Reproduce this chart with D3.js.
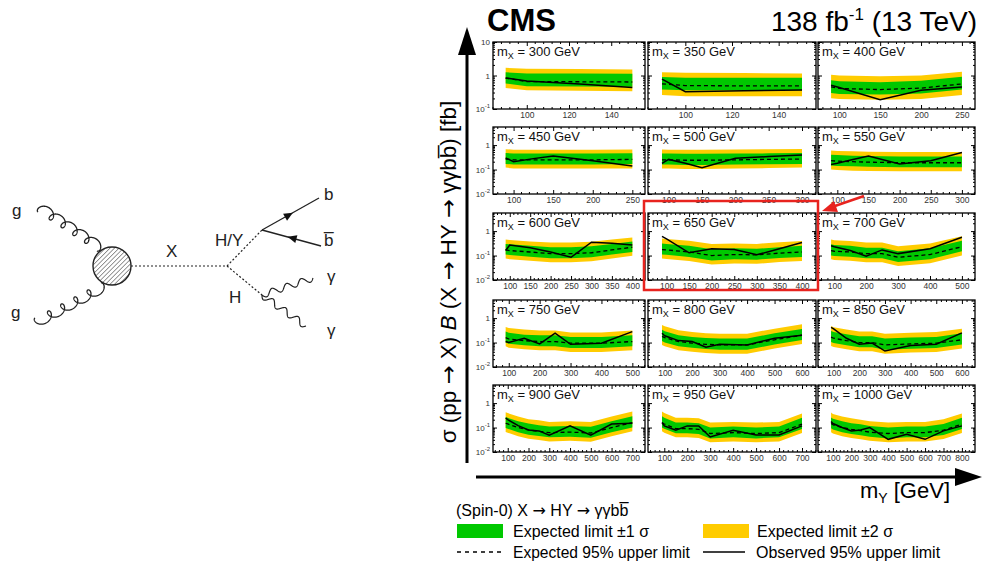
<!DOCTYPE html>
<html><head><meta charset="utf-8">
<script src="https://cdn.jsdelivr.net/npm/d3@7"></script>
<style>
body{margin:0;background:#fff}
svg{display:block}
text{font-family:"Liberation Sans",Arial,Helvetica,sans-serif}
.arr{font-family:"DejaVu Sans",sans-serif}
</style>
</head><body>
<svg id="c" width="994" height="571"></svg>
<script>
// ---------------- DATA ----------------
const massX = [300,350,400,450,500,550,600,650,700,750,800,850,900,950,1000];
const massY = [
 [90,100,125,150],
 [90,100,125,150],
 [90,100,150,200,250],
 [90,100,125,150,200,250],
 [90,100,125,150,200,250,300],
 [90,100,125,150,200,250,300],
 [90,100,150,200,250,300,350,400],
 [90,100,150,200,250,300,350,400],
 [90,100,150,200,250,300,400,500],
 [90,100,150,200,250,300,400,500],
 [90,100,150,200,250,300,400,500,600],
 [90,100,150,200,250,300,400,500,600],
 [90,100,150,200,250,300,400,500,600,700],
 [90,100,150,200,250,300,400,500,600,700],
 [90,100,150,200,250,300,400,500,600,700,800]
];
const expectedLimit = [
 [0.84,0.66,0.65,0.64],
 [0.56,0.50,0.49,0.49],
 [0.46,0.41,0.38,0.42,0.56],
 [0.27,0.25,0.25,0.25,0.25,0.26],
 [0.25,0.25,0.24,0.24,0.25,0.26,0.27],
 [0.23,0.22,0.21,0.20,0.19,0.19,0.19],
 [0.17,0.16,0.14,0.12,0.12,0.13,0.17,0.22],
 [0.175,0.17,0.14,0.10,0.11,0.107,0.126,0.14],
 [0.16,0.15,0.14,0.12,0.12,0.085,0.11,0.23],
 [0.16,0.14,0.12,0.11,0.11,0.094,0.094,0.11],
 [0.18,0.16,0.11,0.095,0.085,0.08,0.08,0.13,0.20],
 [0.166,0.15,0.12,0.10,0.10,0.08,0.088,0.094,0.13],
 [0.15,0.14,0.10,0.08,0.07,0.062,0.065,0.06,0.10,0.16],
 [0.16,0.14,0.09,0.09,0.085,0.057,0.062,0.057,0.062,0.137],
 [0.146,0.13,0.10,0.085,0.075,0.065,0.057,0.062,0.062,0.078,0.137]
];
const observedLimit = [
 [0.84,0.69,0.56,0.44],
 [0.78,0.33,0.35,0.37],
 [0.51,0.44,0.19,0.36,0.45],
 [0.30,0.21,0.28,0.36,0.23,0.14],
 [0.18,0.26,0.18,0.12,0.29,0.34,0.39],
 [0.16,0.18,0.26,0.36,0.17,0.23,0.50],
 [0.16,0.27,0.21,0.14,0.085,0.35,0.32,0.27],
 [0.61,0.48,0.13,0.19,0.175,0.107,0.19,0.34],
 [0.25,0.23,0.16,0.095,0.17,0.12,0.19,0.56],
 [0.11,0.10,0.15,0.088,0.24,0.085,0.094,0.28],
 [0.24,0.19,0.12,0.11,0.065,0.085,0.08,0.15,0.20],
 [0.42,0.36,0.15,0.085,0.095,0.045,0.075,0.085,0.25],
 [0.245,0.21,0.12,0.08,0.073,0.049,0.117,0.049,0.14,0.15],
 [0.16,0.117,0.078,0.117,0.117,0.041,0.078,0.05,0.05,0.117],
 [0.176,0.146,0.10,0.073,0.08,0.10,0.033,0.053,0.033,0.073,0.117]
];
const bandMinus2 = [
 [0.42,0.36,0.35,0.34],
 [0.26,0.24,0.24,0.24],
 [0.21,0.20,0.19,0.20,0.26],
 [0.12,0.11,0.11,0.11,0.11,0.11],
 [0.11,0.11,0.105,0.105,0.11,0.115,0.12],
 [0.10,0.095,0.09,0.088,0.085,0.085,0.085],
 [0.075,0.07,0.062,0.053,0.053,0.058,0.075,0.097],
 [0.075,0.072,0.06,0.043,0.047,0.046,0.054,0.06],
 [0.07,0.066,0.062,0.053,0.053,0.037,0.048,0.10],
 [0.07,0.062,0.053,0.048,0.048,0.041,0.041,0.048],
 [0.079,0.07,0.048,0.042,0.037,0.035,0.035,0.057,0.088],
 [0.073,0.066,0.053,0.044,0.044,0.035,0.039,0.041,0.057],
 [0.066,0.062,0.044,0.035,0.031,0.027,0.029,0.026,0.044,0.07],
 [0.07,0.062,0.04,0.04,0.037,0.025,0.027,0.025,0.027,0.06],
 [0.064,0.057,0.044,0.037,0.033,0.029,0.025,0.027,0.027,0.034,0.06]
];
const bandMinus1 = [
 [0.58,0.48,0.47,0.46],
 [0.38,0.36,0.36,0.36],
 [0.30,0.28,0.27,0.29,0.38],
 [0.17,0.16,0.16,0.16,0.16,0.17],
 [0.16,0.16,0.155,0.155,0.16,0.165,0.17],
 [0.145,0.14,0.135,0.13,0.125,0.125,0.125],
 [0.11,0.105,0.09,0.078,0.078,0.085,0.11,0.14],
 [0.11,0.107,0.088,0.063,0.07,0.068,0.08,0.088],
 [0.10,0.095,0.09,0.077,0.077,0.055,0.07,0.15],
 [0.10,0.09,0.077,0.07,0.07,0.06,0.06,0.07],
 [0.115,0.10,0.07,0.061,0.054,0.051,0.051,0.083,0.128],
 [0.106,0.096,0.077,0.064,0.064,0.051,0.056,0.06,0.083],
 [0.096,0.09,0.064,0.051,0.045,0.04,0.042,0.038,0.064,0.10],
 [0.10,0.09,0.058,0.058,0.054,0.036,0.04,0.036,0.04,0.088],
 [0.093,0.083,0.064,0.054,0.048,0.042,0.036,0.04,0.04,0.05,0.088]
];
const bandPlus1 = [
 [1.25,1.15,1.15,1.12],
 [0.90,0.86,0.85,0.85],
 [0.72,0.67,0.63,0.70,0.92],
 [0.47,0.45,0.45,0.45,0.45,0.46],
 [0.45,0.45,0.44,0.44,0.45,0.46,0.48],
 [0.40,0.39,0.37,0.36,0.34,0.34,0.34],
 [0.30,0.29,0.25,0.22,0.22,0.24,0.30,0.38],
 [0.31,0.30,0.25,0.18,0.20,0.19,0.22,0.25],
 [0.29,0.27,0.25,0.21,0.21,0.15,0.20,0.40],
 [0.28,0.25,0.21,0.20,0.20,0.17,0.17,0.20],
 [0.33,0.29,0.20,0.17,0.155,0.145,0.145,0.24,0.36],
 [0.30,0.27,0.22,0.18,0.18,0.145,0.16,0.17,0.24],
 [0.27,0.25,0.18,0.145,0.125,0.11,0.117,0.108,0.18,0.29],
 [0.29,0.25,0.16,0.16,0.15,0.10,0.11,0.10,0.11,0.25],
 [0.26,0.23,0.18,0.15,0.135,0.117,0.10,0.11,0.11,0.14,0.25]
];
const bandPlus2 = [
 [1.70,1.60,1.55,1.50],
 [1.25,1.20,1.18,1.15],
 [1.05,1.00,0.95,1.00,1.30],
 [0.68,0.65,0.65,0.65,0.65,0.66],
 [0.66,0.65,0.64,0.64,0.66,0.68,0.70],
 [0.60,0.58,0.56,0.54,0.52,0.52,0.52],
 [0.45,0.43,0.38,0.34,0.34,0.37,0.45,0.55],
 [0.50,0.48,0.40,0.30,0.31,0.30,0.35,0.39],
 [0.45,0.42,0.39,0.34,0.34,0.24,0.31,0.62],
 [0.43,0.39,0.34,0.31,0.31,0.26,0.26,0.31],
 [0.52,0.46,0.32,0.27,0.24,0.23,0.23,0.37,0.56],
 [0.47,0.42,0.34,0.28,0.28,0.23,0.25,0.27,0.37],
 [0.42,0.39,0.28,0.22,0.20,0.17,0.18,0.17,0.28,0.45],
 [0.45,0.39,0.25,0.25,0.24,0.16,0.17,0.16,0.17,0.38],
 [0.41,0.36,0.28,0.24,0.21,0.18,0.16,0.17,0.17,0.22,0.38]
];
const xTickValues = [
 [100,120,140],[100,120,140],[100,150,200,250],
 [100,150,200,250],[100,150,200,250,300],[100,150,200,250,300],
 [100,150,200,250,300,350,400],[100,150,200,250,300,350,400],[100,200,300,400,500],
 [100,200,300,400,500],[100,200,300,400,500,600],[100,200,300,400,500,600],
 [100,200,300,400,500,600,700],[100,200,300,400,500,600,700],[100,200,300,400,500,600,700,800]
];
const yTicksTopRow = [[0.1,"10","-1"],[1,"1",""],[10,"10",""]];
const yTicksOtherRows = [[0.01,"10","-2"],[0.1,"10","-1"],[1,"1",""]];
const legendLabels = ["Expected limit \u00B11 \u03C3","Expected limit \u00B12 \u03C3","Expected 95% upper limit","Observed 95% upper limit"];

// ---------------- LAYOUT ----------------
const GREEN = "#00c800", YELLOW = "#ffcc00";
const svg = d3.select("#c");
const colX = [[493,645],[648,816],[818,975]];
const rowTop = [42,127,213,300,385];
const rowH = 67;
const FONT = '"Liberation Sans",Arial,Helvetica,sans-serif';

massX.forEach((mx,i)=>{
  const r = Math.floor(i/3), c = i%3;
  const x0 = colX[c][0], x1 = colX[c][1], y0 = rowTop[r], y1 = y0+rowH;
  const xs = massY[i];
  const lo = xs[0], hi = xs[xs.length-1], pad = 0.1*(hi-lo);
  const x = d3.scaleLinear().domain([lo-pad, hi+pad]).range([x0,x1]);
  const y = d3.scaleLog().domain(r===0?[0.1,10]:[0.01,5.5]).range([y1,y0]);
  const g = svg.append("g");
  const idx = d3.range(xs.length);

  g.append("path").attr("fill",YELLOW)
    .attr("d", d3.area().x(k=>x(xs[k])).y0(k=>y(bandMinus2[i][k])).y1(k=>y(bandPlus2[i][k]))(idx));
  g.append("path").attr("fill",GREEN)
    .attr("d", d3.area().x(k=>x(xs[k])).y0(k=>y(bandMinus1[i][k])).y1(k=>y(bandPlus1[i][k]))(idx));
  g.append("path").attr("fill","none").attr("stroke","#000").attr("stroke-width",1.3)
    .attr("stroke-dasharray","4,3")
    .attr("d", d3.line().x(k=>x(xs[k])).y(k=>y(expectedLimit[i][k]))(idx));
  g.append("path").attr("fill","none").attr("stroke","#000").attr("stroke-width",1.5)
    .attr("d", d3.line().x(k=>x(xs[k])).y(k=>y(observedLimit[i][k]))(idx));

  const step = xTickValues[i][1]-xTickValues[i][0];
  const minorX = d3.range(Math.ceil((lo-pad)/(step/5))*(step/5), hi+pad, step/5)
      .filter(v=>!xTickValues[i].some(t=>Math.abs(t-v)<1e-6));
  const ax = g.append("g").attr("transform",`translate(0,${y1})`)
    .call(d3.axisBottom(x).tickValues(xTickValues[i]).tickSize(-4).tickPadding(3));
  ax.select(".domain").remove();
  ax.selectAll("text").attr("font-size",8.5).attr("fill","#333").attr("font-family",FONT);
  const axTop = g.append("g").attr("transform",`translate(0,${y0})`)
    .call(d3.axisTop(x).tickValues(xTickValues[i]).tickSize(-4).tickFormat(""));
  axTop.select(".domain").remove();
  minorX.forEach(v=>{
    g.append("line").attr("x1",x(v)).attr("x2",x(v)).attr("y1",y1).attr("y2",y1-2).attr("stroke","#000");
    g.append("line").attr("x1",x(v)).attr("x2",x(v)).attr("y1",y0).attr("y2",y0+2).attr("stroke","#000");
  });
  const dom = y.domain();
  const majors = [0.01,0.1,1,10].filter(v=>v>=dom[0]-1e-9&&v<=dom[1]+1e-9);
  const ayL = g.append("g").attr("transform",`translate(${x0},0)`)
    .call(d3.axisLeft(y).tickValues(majors).tickSize(-4).tickFormat(""));
  ayL.select(".domain").remove();
  const ayR = g.append("g").attr("transform",`translate(${x1},0)`)
    .call(d3.axisRight(y).tickValues(majors).tickSize(-4).tickFormat(""));
  ayR.select(".domain").remove();
  const minorY = [];
  [0.01,0.1,1].forEach(d=>{for(let m=2;m<=9;m++){const v=d*m; if(v>dom[0]&&v<dom[1]) minorY.push(v);}});
  minorY.forEach(v=>{
    g.append("line").attr("x1",x0).attr("x2",x0+2).attr("y1",y(v)).attr("y2",y(v)).attr("stroke","#000");
    g.append("line").attr("x1",x1).attr("x2",x1-2).attr("y1",y(v)).attr("y2",y(v)).attr("stroke","#000");
  });
  if(c===0){
    (r===0?yTicksTopRow:yTicksOtherRows).forEach(([v,base,exp])=>{
      const t = g.append("text").attr("x",x0-3).attr("y",y(v)+3).attr("text-anchor","end")
        .attr("font-size",8).attr("fill","#333");
      t.append("tspan").text(base);
      if(exp) t.append("tspan").attr("font-size",6).attr("dy",-4).text(exp);
    });
  }
  g.append("rect").attr("x",x0).attr("y",y0).attr("width",x1-x0).attr("height",rowH)
    .attr("fill","none").attr("stroke","#000").attr("stroke-width",1.3);
  const lab = g.append("text").attr("x",x0+4).attr("y",y0+14).attr("font-size",13).attr("fill","#111");
  lab.append("tspan").text("m");
  lab.append("tspan").attr("font-size",9).attr("dy",3).text("X");
  lab.append("tspan").attr("dy",-3).text(` = ${mx} GeV`);
});

// header
svg.append("text").attr("x",487).attr("y",31).attr("font-size",31).attr("font-weight","bold").text("CMS");
const lumi = svg.append("text").attr("x",977).attr("y",31).attr("font-size",28).attr("text-anchor","end");
lumi.append("tspan").text("138 fb");
lumi.append("tspan").attr("font-size",17).attr("dy",-11).text("-1");
lumi.append("tspan").attr("dy",11).text(" (13 TeV)");

// big arrows
svg.append("line").attr("x1",467).attr("x2",467).attr("y1",463).attr("y2",50).attr("stroke","#000").attr("stroke-width",3);
svg.append("path").attr("d","M467,27L458,55L476,55Z").attr("fill","#000");
svg.append("line").attr("x1",476).attr("x2",960).attr("y1",477).attr("y2",477).attr("stroke","#000").attr("stroke-width",3);
svg.append("path").attr("d","M982,477L955,468L955,486Z").attr("fill","#000");

// y title
const yt = svg.append("text").attr("transform","translate(456,272) rotate(-90)").attr("text-anchor","middle").attr("font-size",22.5);
yt.append("tspan").text("\u03C3 (pp ");
yt.append("tspan").attr("class","arr").text("\u2192");
yt.append("tspan").text(" X) ");
yt.append("tspan").attr("font-style","italic").text("B");
yt.append("tspan").text(" (X ");
yt.append("tspan").attr("class","arr").text("\u2192");
yt.append("tspan").text(" HY ");
yt.append("tspan").attr("class","arr").text("\u2192");
yt.append("tspan").text(" \u03B3\u03B3bb\u0305) [fb]");

// x title
const xt = svg.append("text").attr("x",950).attr("y",498).attr("text-anchor","end").attr("font-size",22);
xt.append("tspan").text("m");
xt.append("tspan").attr("font-size",14).attr("dy",5).text("Y");
xt.append("tspan").attr("dy",-5).text(" [GeV]");

// legend
const lt = svg.append("text").attr("x",456).attr("y",516).attr("font-size",16);
lt.append("tspan").text("(Spin-0) X ");
lt.append("tspan").attr("class","arr").text("\u2192");
lt.append("tspan").text(" HY ");
lt.append("tspan").attr("class","arr").text("\u2192");
lt.append("tspan").text(" \u03B3\u03B3bb\u0305");
svg.append("rect").attr("x",457).attr("y",524).attr("width",46).attr("height",14).attr("fill",GREEN);
svg.append("text").attr("x",513).attr("y",537).attr("font-size",16).text(legendLabels[0]);
svg.append("rect").attr("x",703).attr("y",524).attr("width",46).attr("height",14).attr("fill",YELLOW);
svg.append("text").attr("x",757).attr("y",537).attr("font-size",16).text(legendLabels[1]);
svg.append("line").attr("x1",457).attr("x2",502).attr("y1",552).attr("y2",552).attr("stroke","#000").attr("stroke-width",1.3).attr("stroke-dasharray","4,4");
svg.append("text").attr("x",513).attr("y",558).attr("font-size",15.6).text(legendLabels[2]);
svg.append("line").attr("x1",703).attr("x2",745).attr("y1",552).attr("y2",552).attr("stroke","#000").attr("stroke-width",1.3);
svg.append("text").attr("x",756).attr("y",558).attr("font-size",16).text(legendLabels[3]);

// highlight box + arrow
svg.append("rect").attr("x",644).attr("y",201).attr("width",174).attr("height",89).attr("fill","none").attr("stroke","#e8231f").attr("stroke-width",2.5);
svg.append("line").attr("x1",864).attr("y1",196).attr("x2",832).attr("y2",207).attr("stroke","#e8231f").attr("stroke-width",2.5);
svg.append("path").attr("d","M822,211L834,201L838,212Z").attr("fill","#e8231f");

// ---------------- Feynman diagram ----------------
const fd = svg.append("g").attr("stroke","#222").attr("fill","none");
function gluon(ax,ay,bx,by,n,amp,side){
  const L=Math.hypot(bx-ax,by-ay), ux=(bx-ax)/L, uy=(by-ay)/L, vx=-uy, vy=ux;
  const a=L/(2*Math.PI*n), pts=[];
  for(let k=0;k<=500;k++){const th=2*Math.PI*n*k/500;
    const s=a*th-amp*Math.sin(th), t=side*amp*(1-Math.cos(th));
    pts.push([ax+ux*s+vx*t, ay+uy*s+vy*t]);}
  return d3.line()(pts);
}
function photon(ax,ay,bx,by,n,amp){
  const L=Math.hypot(bx-ax,by-ay), ux=(bx-ax)/L, uy=(by-ay)/L, vx=-uy, vy=ux, pts=[];
  for(let k=0;k<=200;k++){const t=k/200, o=amp*Math.sin(2*Math.PI*n*t);
    pts.push([ax+ux*L*t+vx*o, ay+uy*L*t+vy*o]);}
  return d3.line()(pts);
}
fd.append("path").attr("d",gluon(38,212,97,251,5,4.8,-1)).attr("stroke-width",1.3);
fd.append("path").attr("d",gluon(35,318,101,283,5,4.8,1)).attr("stroke-width",1.3);
const defs = svg.append("defs");
const pat = defs.append("pattern").attr("id","hatch").attr("patternUnits","userSpaceOnUse")
  .attr("width",3.2).attr("height",3.2).attr("patternTransform","rotate(45)");
pat.append("line").attr("x1",0).attr("y1",0).attr("x2",0).attr("y2",3.2).attr("stroke","#333").attr("stroke-width",1);
svg.append("circle").attr("cx",112).attr("cy",266).attr("r",19).attr("fill","url(#hatch)").attr("stroke","#222").attr("stroke-width",1.4);
fd.append("line").attr("x1",131).attr("y1",266).attr("x2",227).attr("y2",266).attr("stroke-dasharray","2,2").attr("stroke-width",1.2);
fd.append("line").attr("x1",227).attr("y1",266).attr("x2",262).attr("y2",230).attr("stroke-dasharray","2,2").attr("stroke-width",1.2);
fd.append("line").attr("x1",227).attr("y1",266).attr("x2",262).attr("y2",295).attr("stroke-dasharray","2,2").attr("stroke-width",1.2);
fd.append("line").attr("x1",262).attr("y1",230).attr("x2",319).attr("y2",198).attr("stroke-width",1.3);
fd.append("line").attr("x1",262).attr("y1",230).attr("x2",321).attr("y2",246).attr("stroke-width",1.3);
function arrowHead(cx,cy,dx,dy){
  const L=Math.hypot(dx,dy), ux=dx/L, uy=dy/L, vx=-uy, vy=ux, h=9, w=4;
  return `M${cx+ux*h/2},${cy+uy*h/2}L${cx-ux*h/2+vx*w},${cy-uy*h/2+vy*w}L${cx-ux*h/2-vx*w},${cy-uy*h/2-vy*w}Z`;
}
svg.append("path").attr("d",arrowHead(289,215,57,-32)).attr("fill","#111");
svg.append("path").attr("d",arrowHead(292,238,-59,-16)).attr("fill","#111");
fd.append("path").attr("d",photon(262,295,313,278,3.5,3.2)).attr("stroke-width",1.2);
fd.append("path").attr("d",photon(262,295,306,326,3.5,3.2)).attr("stroke-width",1.2);
const ft = svg.append("g").attr("font-size",17).attr("fill","#222");
ft.append("text").attr("x",12).attr("y",216).text("g");
ft.append("text").attr("x",11).attr("y",318).text("g");
ft.append("text").attr("x",166).attr("y",257).text("X");
ft.append("text").attr("x",215).attr("y",246).text("H/Y");
ft.append("text").attr("x",229).attr("y",303).text("H");
ft.append("text").attr("x",324).attr("y",200).text("b");
ft.append("text").attr("x",324).attr("y",246).text("b\u0305");
ft.append("text").attr("x",327).attr("y",282).text("\u03B3");
ft.append("text").attr("x",327).attr("y",336).text("\u03B3");
</script>
</body></html>
